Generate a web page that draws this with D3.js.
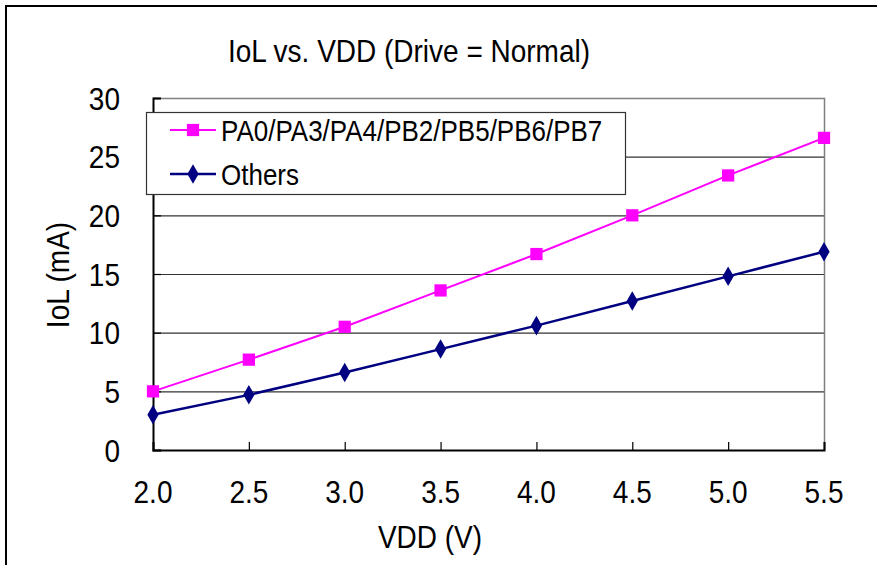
<html>
<head>
<script src="https://d3js.org/d3.v7.min.js"></script>
<style>
  body { margin: 0; background: #fff; }
  text { font-family: "Liberation Sans", Arial, sans-serif; fill: #000; }
</style>
</head>
<body>
<script>
// data
var vdd = [2.0, 2.5, 3.0, 3.5, 4.0, 4.5, 5.0, 5.5];
var pinsA = [5.0, 7.7, 10.5, 13.6, 16.7, 20.0, 23.4, 26.6];   // PA0/PA3/PA4/PB2/PB5/PB6/PB7
var others = [3.0, 4.7, 6.6, 8.6, 10.6, 12.7, 14.8, 16.9];
var yTicks = [0, 5, 10, 15, 20, 25, 30];
var seriesNames = ["PA0/PA3/PA4/PB2/PB5/PB6/PB7", "Others"];

var W = 877, H = 565;
var pLeft = 153, pRight = 824, pTop = 98, pBottom = 450;
var stretch = 1.15;   // the original font is a bit taller than Arial

var svg = d3.select("body").append("svg").attr("width", W).attr("height", H);

// outer frame (runs off the right and bottom edge)
svg.append("rect").attr("x", 6).attr("y", 6).attr("width", 900).attr("height", 600)
   .attr("fill", "#fff").attr("stroke", "#000").attr("stroke-width", 2);

var x = d3.scaleLinear().domain([2.0, 5.5]).range([pLeft, pRight]);
var y = d3.scaleLinear().domain([0, 30]).range([pBottom, pTop]);

function label(px, py, str, size, anchor, rot) {
  return svg.append("text")
    .attr("transform", "translate(" + px + "," + py + ")" + (rot ? " rotate(" + rot + ")" : "") + " scale(1," + stretch + ")")
    .attr("text-anchor", anchor || "middle")
    .style("font-size", size + "px").text(str);
}

// grid lines
svg.append("g").selectAll("line").data(yTicks.slice(1, -1)).enter().append("line")
   .attr("x1", pLeft).attr("x2", pRight)
   .attr("y1", function(d) { return y(d) + 0.5; }).attr("y2", function(d) { return y(d) + 0.5; })
   .attr("stroke", "#333").attr("stroke-width", 1.2);

// plot frame top and right
svg.append("path").attr("d", "M" + pLeft + "," + (pTop + 0.5) + "H" + (pRight + 0.5) + "V" + pBottom)
   .attr("fill", "none").attr("stroke", "#808080").attr("stroke-width", 1.5);

// axes (tick marks point inward, labels drawn separately)
var xAxis = d3.axisBottom(x).tickValues(vdd).tickSize(-8).tickFormat("");
var gx = svg.append("g").attr("transform", "translate(0," + pBottom + ")").call(xAxis);
var yAxis = d3.axisLeft(y).tickValues(yTicks).tickSize(-8).tickFormat("");
var gy = svg.append("g").attr("transform", "translate(" + pLeft + ",0)").call(yAxis);
[gx, gy].forEach(function(g) {
  g.select(".domain").attr("stroke", "#000").attr("stroke-width", 2);
  g.selectAll(".tick line").attr("stroke", "#000").attr("stroke-width", 1.2);
});

vdd.forEach(function(v) { label(x(v), 503, d3.format(".1f")(v), 28); });
yTicks.forEach(function(v) { label(120, y(v) + 11.5, v, 28, "end"); });

// series lines
var line = d3.line().x(function(d, i) { return x(vdd[i]); }).y(function(d) { return y(d); });
svg.append("path").datum(pinsA).attr("d", line).attr("fill", "none").attr("stroke", "#FF00FF").attr("stroke-width", 2);
svg.append("path").datum(others).attr("d", line).attr("fill", "none").attr("stroke", "#000080").attr("stroke-width", 2.5);

var sq = d3.symbol().type(d3.symbolSquare).size(150);
var dia = d3.symbol().type(d3.symbolDiamond).size(110);
svg.append("g").selectAll("path").data(pinsA).enter().append("path")
   .attr("d", sq).attr("fill", "#FF00FF")
   .attr("transform", function(d, i) { return "translate(" + x(vdd[i]) + "," + y(d) + ")"; });
svg.append("g").selectAll("path").data(others).enter().append("path")
   .attr("d", dia).attr("fill", "#000080")
   .attr("transform", function(d, i) { return "translate(" + x(vdd[i]) + "," + y(d) + ")"; });

// legend
svg.append("rect").attr("x", 146.5).attr("y", 112.5).attr("width", 479).attr("height", 82)
  .attr("fill", "#fff").attr("stroke", "#333").attr("stroke-width", 1.2);
var lcol = ["#FF00FF", "#000080"], lsym = [sq, dia], lw = [2, 2.5];
seriesNames.forEach(function(name, i) {
  var cy = 130 + i * 44;
  svg.append("line").attr("x1", 170).attr("x2", 216).attr("y1", cy).attr("y2", cy)
    .attr("stroke", lcol[i]).attr("stroke-width", lw[i]);
  svg.append("path").attr("d", lsym[i]).attr("fill", lcol[i]).attr("transform", "translate(193," + cy + ")");
  label(221, cy + 11, name, 26, "start");
});

// titles
label(409, 62, "IoL vs. VDD (Drive = Normal)", 28);
label(430, 548, "VDD (V)", 28);
label(69, 275, "IoL (mA)", 28, "middle", -90);
</script>
</body>
</html>
